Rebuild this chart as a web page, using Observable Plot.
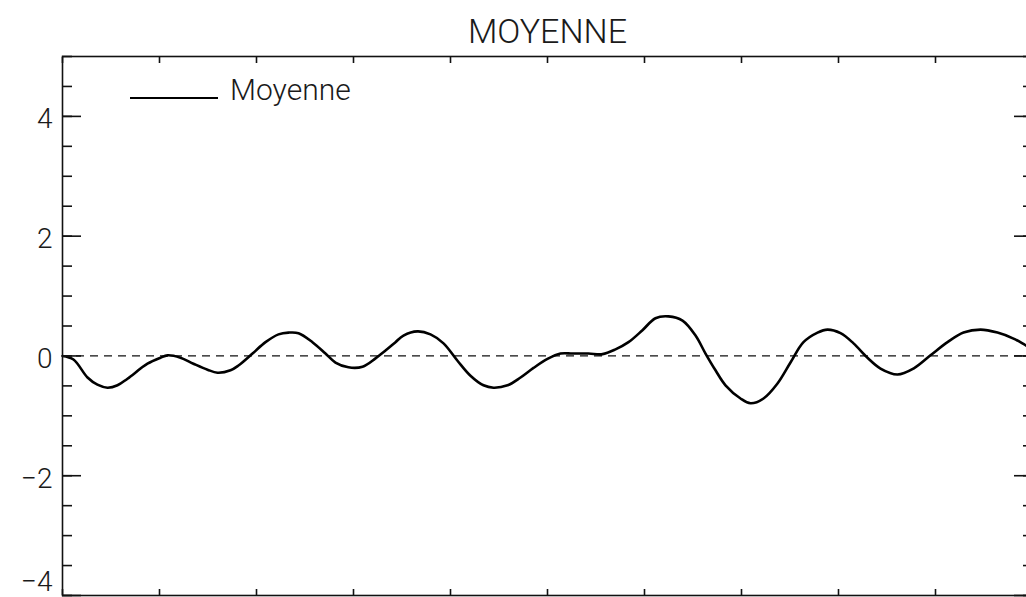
<!DOCTYPE html>
<html>
<head>
<meta charset="utf-8">
<script src="https://cdn.jsdelivr.net/npm/d3@7"></script>
<script src="https://cdn.jsdelivr.net/npm/@observablehq/plot@0.6"></script>
<style>
  html, body { margin: 0; padding: 0; background: #fff; overflow: hidden; }
  #chart svg { display: block; }
</style>
</head>
<body>
<div id="chart"></div>
<script>
const titleText = "MOYENNE";
const seriesName = "Moyenne";
const xs = [0, 1.13, 2.58, 3.6, 4.64, 5.67, 6.7, 8.76, 10.1, 10.82, 12.16, 13.5, 14.95, 15.98, 17.32, 18.14, 19.59, 20.93, 22.27, 23.3, 24.33, 25.77, 27.11, 28.14, 29.48, 30.93, 32.27, 33.3, 34.33, 35.15, 36.6, 37.94, 39.28, 40.72, 42.06, 43.4, 44.43, 45.88, 47.22, 48.56, 50, 51.34, 52.58, 54.23, 55.67, 57.01, 58.35, 59.79, 61.13, 62.47, 63.92, 65.26, 66.29, 67.32, 68.35, 69.9, 70.93, 72.27, 73.71, 75.05, 76.39, 77.84, 78.87, 80.21, 81.55, 82.99, 84.33, 86.08, 87.73, 89.48, 91.24, 92.89, 94.64, 96.39, 98.04, 99.38, 100];
const ys = [0, -0.06, -0.36, -0.48, -0.53, -0.49, -0.38, -0.13, -0.03, 0.01, -0.03, -0.13, -0.23, -0.28, -0.24, -0.16, 0.04, 0.23, 0.36, 0.39, 0.38, 0.23, 0.04, -0.11, -0.19, -0.18, -0.04, 0.09, 0.23, 0.34, 0.41, 0.36, 0.21, -0.08, -0.33, -0.49, -0.53, -0.49, -0.36, -0.2, -0.05, 0.04, 0.04, 0.04, 0.03, 0.11, 0.23, 0.43, 0.63, 0.66, 0.59, 0.34, 0.04, -0.24, -0.49, -0.71, -0.79, -0.71, -0.46, -0.11, 0.23, 0.39, 0.44, 0.38, 0.21, -0.03, -0.21, -0.31, -0.21, 0.01, 0.23, 0.39, 0.44, 0.39, 0.29, 0.17, 0.12];
const yMajorTicks = [-4, -2, 0, 2, 4];
const yMinorTicks = d3.range(-4, 5.01, 0.5);
const xTicks = d3.range(0, 100.01, 10);
const fmt = v => v < 0 ? "\u2212" + Math.abs(v) : String(v);

const data = xs.map((x, i) => ({x, y: ys[i]}));
const font = "Roboto, 'Liberation Sans', Arial, sans-serif";
const ink = "#111";
const txt = "#1a1a1a";

const plot = Plot.plot({
  width: 1026,
  height: 597,
  marginLeft: 62,
  marginRight: -6,
  marginTop: 56,
  marginBottom: 2,
  style: {fontFamily: font, background: "#fff", color: ink, overflow: "hidden"},
  x: {domain: [0, 100], label: null},
  y: {domain: [-4, 5], label: null},
  marks: [
    Plot.ruleY([0], {stroke: ink, strokeWidth: 1.3, strokeDasharray: "8,6"}),
    Plot.line(data, {x: "x", y: "y", stroke: "#000", strokeWidth: 2.6, curve: "catmull-rom"}),
    Plot.frame({stroke: ink, strokeWidth: 1.6}),
    // y axis labels
    Plot.axisY({anchor: "left", label: null, ticks: yMajorTicks.filter(v => v > -4), tickSize: 0, tickPadding: 10,
      tickFormat: fmt, fontSize: 28, fontWeight: 300, fill: txt, dy: 3}),
    Plot.axisY({anchor: "left", label: null, ticks: [-4], tickSize: 0, tickPadding: 10,
      tickFormat: fmt, fontSize: 28, fontWeight: 300, fill: txt, dy: -13}),
    // inward y ticks (left & right)
    Plot.axisY({anchor: "left", label: null, ticks: yMajorTicks, tickSize: -19, text: null, stroke: ink, strokeWidth: 1.6}),
    Plot.axisY({anchor: "left", label: null, ticks: yMinorTicks, tickSize: -10, text: null, stroke: ink, strokeWidth: 1.6}),
    Plot.axisY({anchor: "right", label: null, ticks: yMajorTicks, tickSize: -19, text: null, stroke: ink, strokeWidth: 1.6}),
    Plot.axisY({anchor: "right", label: null, ticks: yMinorTicks, tickSize: -10, text: null, stroke: ink, strokeWidth: 1.6}),
    // inward x ticks (top & bottom)
    Plot.axisX({anchor: "top", label: null, ticks: xTicks, tickSize: -6, text: null, stroke: ink, strokeWidth: 1.6}),
    Plot.axisX({anchor: "bottom", label: null, ticks: xTicks, tickSize: -6, text: null, stroke: ink, strokeWidth: 1.6}),
    // title
    Plot.text([titleText], {frameAnchor: "top", dy: -14, lineAnchor: "bottom", fontSize: 34, fontWeight: 300, fill: txt})
  ]
});

document.getElementById("chart").appendChild(plot);

// legend
const svg = d3.select(plot);
const lg = svg.append("g").attr("class", "legend");
lg.append("line").attr("x1", 130).attr("x2", 218).attr("y1", 98).attr("y2", 98)
  .attr("stroke", "#000").attr("stroke-width", 2);
lg.append("text").attr("x", 230).attr("y", 100).text(seriesName)
  .attr("text-anchor", "start")
  .attr("font-family", font).attr("font-size", 30).attr("font-weight", 300).attr("fill", txt);
</script>
</body>
</html>
